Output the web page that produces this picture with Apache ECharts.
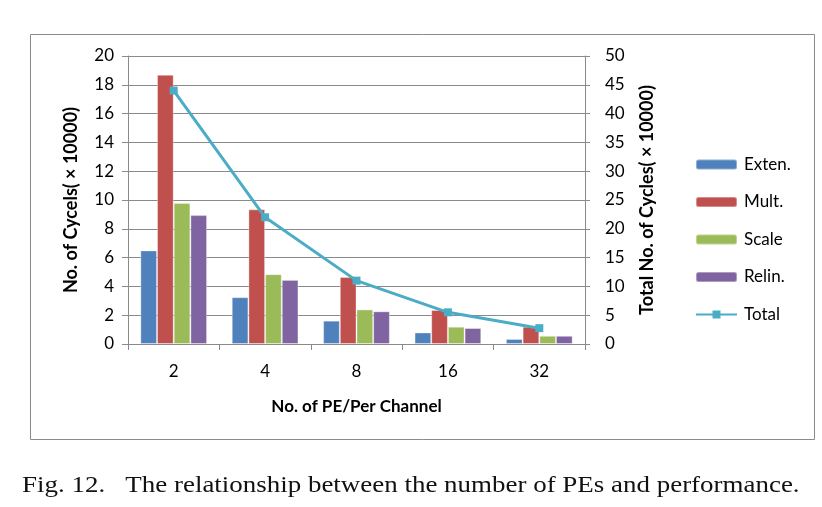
<!DOCTYPE html>
<html><head><meta charset="utf-8">
<script src="https://cdn.jsdelivr.net/npm/echarts@6/dist/echarts.min.js"></script>
<style>html,body{margin:0;padding:0;background:#fff}#c{width:822px;height:507px}</style>
</head><body><div id="c"></div>
<script>
const categories = ['2','4','8','16','32'];
const exten = [6.5, 3.25, 1.62, 0.8, 0.35];
const mult  = [18.7, 9.35, 4.65, 2.36, 1.2];
const scale = [9.8, 4.85, 2.4, 1.2, 0.57];
const relin = [8.95, 4.45, 2.27, 1.11, 0.57];
const total = [44.0, 22.0, 11.0, 5.5, 2.75];
const leftTicks = [0, 20, 2];
const rightTicks = [0, 50, 5];

const font = 'Lato, "Open Sans", sans-serif';
const chart = echarts.init(document.getElementById('c'), null, {renderer:'canvas'});
const barBase = {type:'bar', barGap:'0%', barCategoryGap:'27%', yAxisIndex:0,
  itemStyle:{borderColor:'rgba(255,255,255,0.35)', borderWidth:1}};
chart.setOption({
  animation:false,
  graphic:[
    {type:'rect', shape:{x:30.5,y:34.5,width:784,height:405}, style:{fill:'none', stroke:'#8a8a8a', lineWidth:1}, z:-1},
    {type:'text', x:22, y:474, scaleX:1.225, scaleY:1.05,
     style:{text:'Fig. 12.   The relationship between the number of PEs and performance.',
       font:'22px "Liberation Serif", serif', fill:'#111'}}
  ],
  legend:{orient:'vertical', left:690, top:151, itemWidth:41, itemHeight:10, itemGap:20.5,
    textStyle:{fontFamily:font, fontSize:17, color:'#000', padding:[0,0,0,2]},
    data:['Exten.','Mult.','Scale','Relin.','Total']},
  grid:{left:128, right:237, top:56, bottom:163, containLabel:false},
  xAxis:{type:'category', data:categories,
    axisLine:{lineStyle:{color:'#8a8a8a'}},
    axisTick:{show:true, length:6, lineStyle:{color:'#8a8a8a'}},
    axisLabel:{fontFamily:font, fontSize:17, color:'#000', margin:19},
    name:'No. of PE/Per Channel', nameLocation:'middle', nameGap:54,
    nameTextStyle:{fontFamily:font, fontSize:17, fontWeight:'bold', color:'#000'}},
  yAxis:[{type:'value', min:leftTicks[0], max:leftTicks[1], interval:leftTicks[2],
    axisLine:{show:true, lineStyle:{color:'#8a8a8a'}},
    axisTick:{show:true, length:6, lineStyle:{color:'#8a8a8a'}},
    splitLine:{lineStyle:{color:'#8a8a8a'}},
    axisLabel:{fontFamily:font, fontSize:17, color:'#000', margin:14},
    name:'No. of Cycels( \u00d7 10000)', nameLocation:'middle', nameGap:48, nameRotate:90,
    nameTextStyle:{fontFamily:font, fontSize:18, fontWeight:'bold', color:'#000'}},
   {type:'value', min:rightTicks[0], max:rightTicks[1], interval:rightTicks[2], position:'right',
    axisLine:{show:true, lineStyle:{color:'#8a8a8a'}},
    axisTick:{show:true, length:5, inside:false, lineStyle:{color:'#8a8a8a'}},
    splitLine:{show:false},
    axisLabel:{fontFamily:font, fontSize:17, color:'#000', margin:20},
    name:'Total No. of Cycles( \u00d7 10000)', nameLocation:'middle', nameGap:53, nameRotate:90,
    nameTextStyle:{fontFamily:font, fontSize:18, fontWeight:'bold', color:'#000'}}],
  series:[
    Object.assign({}, barBase, {name:'Exten.', data:exten, itemStyle:Object.assign({}, barBase.itemStyle, {color:'#4F81BD'})}),
    Object.assign({}, barBase, {name:'Mult.', data:mult, itemStyle:Object.assign({}, barBase.itemStyle, {color:'#C0504D'})}),
    Object.assign({}, barBase, {name:'Scale', data:scale, itemStyle:Object.assign({}, barBase.itemStyle, {color:'#9BBB59'})}),
    Object.assign({}, barBase, {name:'Relin.', data:relin, itemStyle:Object.assign({}, barBase.itemStyle, {color:'#8064A2'})}),
    {type:'line', name:'Total', data:total, yAxisIndex:1, symbol:'rect', symbolSize:8, showSymbol:true,
     lineStyle:{color:'#4BACC6', width:3}, itemStyle:{color:'#4BACC6'}, z:5}
  ]
});
</script></body></html>
